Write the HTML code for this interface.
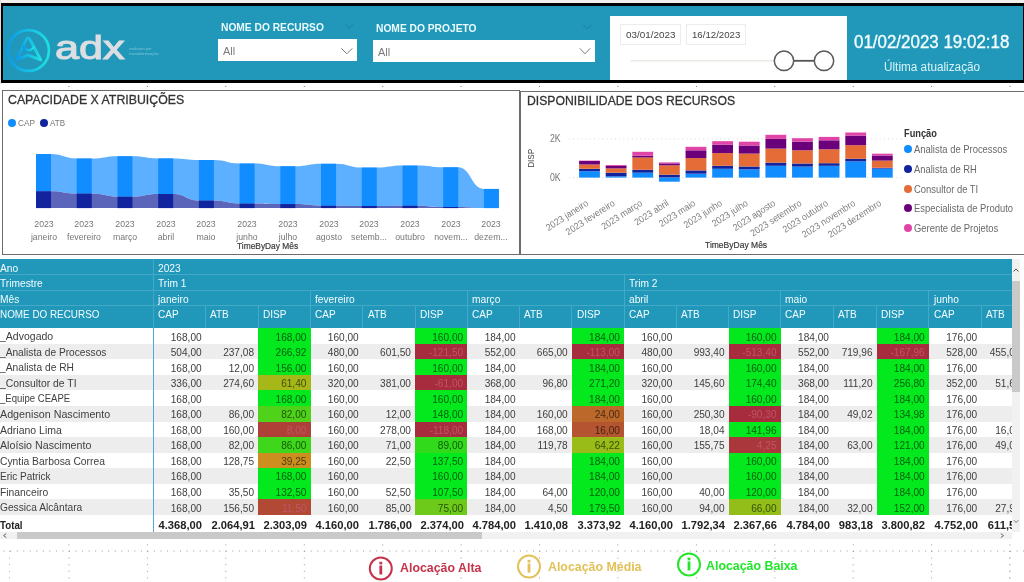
<!DOCTYPE html>
<html lang="pt-BR"><head><meta charset="utf-8"><title>Dashboard ADX</title>
<style>
html,body{margin:0;padding:0;}
body{width:1024px;height:582px;overflow:hidden;position:relative;background:#fff;font-family:"Liberation Sans",sans-serif;}
.t{position:absolute;white-space:nowrap;line-height:1;transform-origin:0 50%;}
.b{position:absolute;}
svg{position:absolute;left:0;top:0;overflow:visible;}
</style></head><body><div id="root" style="position:absolute;left:0;top:0;width:1024px;height:582px;will-change:transform">
<div class="b" style="left:0;top:0;width:1024px;height:2.6px;background:#f2efec"></div>
<div class="b" style="left:0;top:0;width:1.2px;height:84px;background:#e4e0dc"></div>
<div class="b" style="left:1px;top:3px;width:1023px;height:80px;background:#000"></div>
<div class="b" style="left:3px;top:5.5px;width:1020px;height:74.5px;background:#2198ba"></div>
<svg width="1024" height="90" viewBox="0 0 1024 90">
<defs><linearGradient id="lg" x1="0" y1="0" x2="1" y2="0"><stop offset="0" stop-color="#0e9be8"/><stop offset="1" stop-color="#1fe0df"/></linearGradient></defs>
<circle cx="28.5" cy="50.5" r="20.4" fill="none" stroke="url(#lg)" stroke-width="2.7"/>
<path d="M16.5 59.3 L25.9 40.2 Q28 35.6 30.3 40.2 L40.8 59.9 L28 55.2 Z" fill="none" stroke="url(#lg)" stroke-width="2.9" stroke-linejoin="round"/>
<path d="M23.8 47 Q28.5 53.5 33.6 47.4" fill="none" stroke="url(#lg)" stroke-width="2.5" stroke-linecap="round"/>
</svg>
<span class="t" style="left:55.00px;top:30.96px;font-size:33.6px;color:#dcdee1;transform:scaleX(1.2848);-webkit-text-stroke:1.1px #dcdee1;">adx</span>
<span class="t" style="left:128.50px;top:46.61px;font-size:4px;color:#7fc6d8;transform:scaleX(0.9823);">evolution por</span>
<span class="t" style="left:128.50px;top:51.61px;font-size:4px;color:#7fc6d8;transform:scaleX(1.1539);">transformação</span>
<span class="t" style="left:220.50px;top:21.08px;font-size:11.6px;color:#e9fbfd;font-weight:700;transform:scaleX(0.8821);">NOME DO RECURSO</span>
<div class="b" style="left:217.6px;top:39.3px;width:139px;height:22px;background:#fff"></div>
<span class="t" style="left:223.00px;top:46.07px;font-size:10.9px;color:#7a7a7a;">All</span>
<span class="t" style="left:375.70px;top:21.58px;font-size:11.6px;color:#e9fbfd;font-weight:700;transform:scaleX(0.8835);">NOME DO PROJETO</span>
<div class="b" style="left:372.7px;top:40px;width:222.7px;height:21.6px;background:#fff"></div>
<span class="t" style="left:378.00px;top:46.67px;font-size:10.9px;color:#7a7a7a;">All</span>
<svg width="1024" height="90" viewBox="0 0 1024 90" fill="none">
<path d="M341.3 48.3 L346.8 53.8 L352.3 48.3" stroke="#7a7a7a" stroke-width="1"/>
<path d="M344.8 24.3 L348.9 28.2 L353 24.3" stroke="#1b7f9d" stroke-width="1"/>
<path d="M579.8 48.3 L585 53.8 L590.2 48.3" stroke="#7a7a7a" stroke-width="1"/>
<path d="M583.2 24.8 L587.3 28.7 L591.4 24.8" stroke="#1b7f9d" stroke-width="1"/>
</svg>
<div class="b" style="left:609.6px;top:15.6px;width:237.2px;height:64.4px;background:#fff"></div>
<div class="b" style="left:620.3px;top:23.7px;width:60.4px;height:21px;border:1px solid #eeecea;box-sizing:border-box"></div>
<div class="b" style="left:685.8px;top:23.7px;width:60.2px;height:21px;border:1px solid #eeecea;box-sizing:border-box"></div>
<span class="t" style="left:626.00px;top:29.87px;font-size:9.6px;color:#444;transform:scaleX(1.0282);">03/01/2023</span>
<span class="t" style="left:692.00px;top:29.87px;font-size:9.6px;color:#444;transform:scaleX(1.0073);">16/12/2023</span>
<svg width="1024" height="90" viewBox="0 0 1024 90" fill="none">
<path d="M630.5 60.8 H774" stroke="#ebe9e4" stroke-width="1.4"/>
<path d="M794 60.8 H814" stroke="#555" stroke-width="1.8"/>
<circle cx="784" cy="60.8" r="9.7" fill="#fff" stroke="#5a5a5a" stroke-width="1.5"/>
<circle cx="824" cy="60.8" r="9.7" fill="#fff" stroke="#5a5a5a" stroke-width="1.5"/>
</svg>
<span class="t" style="left:854.40px;top:33.90px;font-size:17.6px;color:#f2fdff;transform:scaleX(0.9623);-webkit-text-stroke:0.35px #f2fdff;">01/02/2023 19:02:18</span>
<span class="t" style="left:883.70px;top:61.44px;font-size:12px;color:#d9f4f8;transform:scaleX(0.9802);">Última atualização</span>
<div class="b" style="left:2px;top:90px;width:517.5px;height:165px;border:1.3px solid #6c6c6c;box-sizing:border-box;background:#fff"></div>
<span class="t" style="left:7.80px;top:93.04px;font-size:13.3px;color:#333;transform:scaleX(0.9265);-webkit-text-stroke:0.3px #333;">CAPACIDADE X ATRIBUIÇÕES</span>
<div class="b" style="left:7.6px;top:118.6px;width:8.2px;height:8.2px;border-radius:50%;background:#118dff"></div>
<span class="t" style="left:18.00px;top:118.63px;font-size:9.3px;color:#777;transform:scaleX(0.8890);">CAP</span>
<div class="b" style="left:39.9px;top:118.6px;width:8.2px;height:8.2px;border-radius:50%;background:#12239e"></div>
<span class="t" style="left:50.40px;top:118.63px;font-size:9.3px;color:#777;transform:scaleX(0.8622);">ATB</span>
<svg width="1024" height="582" viewBox="0 0 1024 582"><path d="M36.00 154.00 L51.00 154.00 C63.86 154.00 63.86 158.50 76.72 158.50 L91.72 158.50 C104.58 158.50 104.58 156.20 117.44 156.20 L132.44 156.20 C145.30 156.20 145.30 158.40 158.16 158.40 L173.16 158.40 C186.02 158.40 186.02 160.00 198.88 160.00 L213.88 160.00 C226.74 160.00 226.74 163.50 239.60 163.50 L254.60 163.50 C267.46 163.50 267.46 166.30 280.32 166.30 L295.32 166.30 C308.18 166.30 308.18 163.80 321.04 163.80 L336.04 163.80 C348.90 163.80 348.90 167.60 361.76 167.60 L376.76 167.60 C389.62 167.60 389.62 165.60 402.48 165.60 L417.48 165.60 C430.34 165.60 430.34 167.30 443.20 167.30 L458.20 167.30 C471.06 167.30 471.06 188.90 483.92 188.90 L498.92 188.90 L498.92 208.10 L483.92 208.10 C471.06 208.10 471.06 207.00 458.20 207.00 L458.20 207.00 L443.20 207.00 C430.34 207.00 430.34 205.70 417.48 205.70 L417.48 205.70 L402.48 205.70 C389.62 205.70 389.62 206.00 376.76 206.00 L376.76 206.00 L361.76 206.00 C348.90 206.00 348.90 205.70 336.04 205.70 L336.04 205.70 L321.04 205.70 C308.18 205.70 308.18 204.10 295.32 204.10 L295.32 204.10 L280.32 204.10 C267.46 204.10 267.46 203.60 254.60 203.60 L254.60 203.60 L239.60 203.60 C226.74 203.60 226.74 200.60 213.88 200.60 L213.88 200.60 L198.88 200.60 C186.02 200.60 186.02 194.00 173.16 194.00 L173.16 194.00 L158.16 194.00 C145.30 194.00 145.30 196.70 132.44 196.70 L132.44 196.70 L117.44 196.70 C104.58 196.70 104.58 193.60 91.72 193.60 L91.72 193.60 L76.72 193.60 C63.86 193.60 63.86 191.30 51.00 191.30 L51.00 191.30 L36.00 191.30 Z" fill="#5cb0ff"/><path d="M36.00 191.30 L51.00 191.30 C63.86 191.30 63.86 193.60 76.72 193.60 L91.72 193.60 C104.58 193.60 104.58 196.70 117.44 196.70 L132.44 196.70 C145.30 196.70 145.30 194.00 158.16 194.00 L173.16 194.00 C186.02 194.00 186.02 200.60 198.88 200.60 L213.88 200.60 C226.74 200.60 226.74 203.60 239.60 203.60 L254.60 203.60 C267.46 203.60 267.46 204.10 280.32 204.10 L295.32 204.10 C308.18 204.10 308.18 205.70 321.04 205.70 L336.04 205.70 C348.90 205.70 348.90 206.00 361.76 206.00 L376.76 206.00 C389.62 206.00 389.62 205.70 402.48 205.70 L417.48 205.70 C430.34 205.70 430.34 207.00 443.20 207.00 L458.20 207.00 C471.06 207.00 471.06 208.10 483.92 208.10 L498.92 208.10 L498.92 208.10 L483.92 208.10 C471.06 208.10 471.06 208.10 458.20 208.10 L458.20 208.10 L443.20 208.10 C430.34 208.10 430.34 208.10 417.48 208.10 L417.48 208.10 L402.48 208.10 C389.62 208.10 389.62 208.10 376.76 208.10 L376.76 208.10 L361.76 208.10 C348.90 208.10 348.90 208.10 336.04 208.10 L336.04 208.10 L321.04 208.10 C308.18 208.10 308.18 208.10 295.32 208.10 L295.32 208.10 L280.32 208.10 C267.46 208.10 267.46 208.10 254.60 208.10 L254.60 208.10 L239.60 208.10 C226.74 208.10 226.74 208.10 213.88 208.10 L213.88 208.10 L198.88 208.10 C186.02 208.10 186.02 208.10 173.16 208.10 L173.16 208.10 L158.16 208.10 C145.30 208.10 145.30 208.10 132.44 208.10 L132.44 208.10 L117.44 208.10 C104.58 208.10 104.58 208.10 91.72 208.10 L91.72 208.10 L76.72 208.10 C63.86 208.10 63.86 208.10 51.00 208.10 L51.00 208.10 L36.00 208.10 Z" fill="#5b66ba"/><rect x="36.00" y="154.00" width="15.0" height="37.30" fill="#118dff"/><rect x="36.00" y="191.30" width="15.0" height="16.80" fill="#12239e"/><rect x="76.72" y="158.50" width="15.0" height="35.10" fill="#118dff"/><rect x="76.72" y="193.60" width="15.0" height="14.50" fill="#12239e"/><rect x="117.44" y="156.20" width="15.0" height="40.50" fill="#118dff"/><rect x="117.44" y="196.70" width="15.0" height="11.40" fill="#12239e"/><rect x="158.16" y="158.40" width="15.0" height="35.60" fill="#118dff"/><rect x="158.16" y="194.00" width="15.0" height="14.10" fill="#12239e"/><rect x="198.88" y="160.00" width="15.0" height="40.60" fill="#118dff"/><rect x="198.88" y="200.60" width="15.0" height="7.50" fill="#12239e"/><rect x="239.60" y="163.50" width="15.0" height="40.10" fill="#118dff"/><rect x="239.60" y="203.60" width="15.0" height="4.50" fill="#12239e"/><rect x="280.32" y="166.30" width="15.0" height="37.80" fill="#118dff"/><rect x="280.32" y="204.10" width="15.0" height="4.00" fill="#12239e"/><rect x="321.04" y="163.80" width="15.0" height="41.90" fill="#118dff"/><rect x="321.04" y="205.70" width="15.0" height="2.40" fill="#12239e"/><rect x="361.76" y="167.60" width="15.0" height="38.40" fill="#118dff"/><rect x="361.76" y="206.00" width="15.0" height="2.10" fill="#12239e"/><rect x="402.48" y="165.60" width="15.0" height="40.10" fill="#118dff"/><rect x="402.48" y="205.70" width="15.0" height="2.40" fill="#12239e"/><rect x="443.20" y="167.30" width="15.0" height="39.70" fill="#118dff"/><rect x="443.20" y="207.00" width="15.0" height="1.10" fill="#12239e"/><rect x="483.92" y="188.90" width="15.0" height="19.20" fill="#118dff"/></svg>
<span class="t" style="left:3.50px;width:80px;text-align:center;top:219.34px;font-size:9.4px;color:#777;transform-origin:50% 50%;transform:scaleX(0.93)">2023</span>
<span class="t" style="left:3.50px;width:80px;text-align:center;top:232.34px;font-size:9.4px;color:#777;transform-origin:50% 50%;transform:scaleX(0.93)">janeiro</span>
<span class="t" style="left:44.22px;width:80px;text-align:center;top:219.34px;font-size:9.4px;color:#777;transform-origin:50% 50%;transform:scaleX(0.93)">2023</span>
<span class="t" style="left:44.22px;width:80px;text-align:center;top:232.34px;font-size:9.4px;color:#777;transform-origin:50% 50%;transform:scaleX(0.93)">fevereiro</span>
<span class="t" style="left:84.94px;width:80px;text-align:center;top:219.34px;font-size:9.4px;color:#777;transform-origin:50% 50%;transform:scaleX(0.93)">2023</span>
<span class="t" style="left:84.94px;width:80px;text-align:center;top:232.34px;font-size:9.4px;color:#777;transform-origin:50% 50%;transform:scaleX(0.93)">março</span>
<span class="t" style="left:125.66px;width:80px;text-align:center;top:219.34px;font-size:9.4px;color:#777;transform-origin:50% 50%;transform:scaleX(0.93)">2023</span>
<span class="t" style="left:125.66px;width:80px;text-align:center;top:232.34px;font-size:9.4px;color:#777;transform-origin:50% 50%;transform:scaleX(0.93)">abril</span>
<span class="t" style="left:166.38px;width:80px;text-align:center;top:219.34px;font-size:9.4px;color:#777;transform-origin:50% 50%;transform:scaleX(0.93)">2023</span>
<span class="t" style="left:166.38px;width:80px;text-align:center;top:232.34px;font-size:9.4px;color:#777;transform-origin:50% 50%;transform:scaleX(0.93)">maio</span>
<span class="t" style="left:207.10px;width:80px;text-align:center;top:219.34px;font-size:9.4px;color:#777;transform-origin:50% 50%;transform:scaleX(0.93)">2023</span>
<span class="t" style="left:207.10px;width:80px;text-align:center;top:232.34px;font-size:9.4px;color:#777;transform-origin:50% 50%;transform:scaleX(0.93)">junho</span>
<span class="t" style="left:247.82px;width:80px;text-align:center;top:219.34px;font-size:9.4px;color:#777;transform-origin:50% 50%;transform:scaleX(0.93)">2023</span>
<span class="t" style="left:247.82px;width:80px;text-align:center;top:232.34px;font-size:9.4px;color:#777;transform-origin:50% 50%;transform:scaleX(0.93)">julho</span>
<span class="t" style="left:288.54px;width:80px;text-align:center;top:219.34px;font-size:9.4px;color:#777;transform-origin:50% 50%;transform:scaleX(0.93)">2023</span>
<span class="t" style="left:288.54px;width:80px;text-align:center;top:232.34px;font-size:9.4px;color:#777;transform-origin:50% 50%;transform:scaleX(0.93)">agosto</span>
<span class="t" style="left:329.26px;width:80px;text-align:center;top:219.34px;font-size:9.4px;color:#777;transform-origin:50% 50%;transform:scaleX(0.93)">2023</span>
<span class="t" style="left:329.26px;width:80px;text-align:center;top:232.34px;font-size:9.4px;color:#777;transform-origin:50% 50%;transform:scaleX(0.93)">setemb...</span>
<span class="t" style="left:369.98px;width:80px;text-align:center;top:219.34px;font-size:9.4px;color:#777;transform-origin:50% 50%;transform:scaleX(0.93)">2023</span>
<span class="t" style="left:369.98px;width:80px;text-align:center;top:232.34px;font-size:9.4px;color:#777;transform-origin:50% 50%;transform:scaleX(0.93)">outubro</span>
<span class="t" style="left:410.70px;width:80px;text-align:center;top:219.34px;font-size:9.4px;color:#777;transform-origin:50% 50%;transform:scaleX(0.93)">2023</span>
<span class="t" style="left:410.70px;width:80px;text-align:center;top:232.34px;font-size:9.4px;color:#777;transform-origin:50% 50%;transform:scaleX(0.93)">novem...</span>
<span class="t" style="left:451.42px;width:80px;text-align:center;top:219.34px;font-size:9.4px;color:#777;transform-origin:50% 50%;transform:scaleX(0.93)">2023</span>
<span class="t" style="left:451.42px;width:80px;text-align:center;top:232.34px;font-size:9.4px;color:#777;transform-origin:50% 50%;transform:scaleX(0.93)">dezem...</span>
<span class="t" style="left:237.40px;top:242.41px;font-size:9.2px;color:#3a3a3a;transform:scaleX(0.9116);-webkit-text-stroke:0.2px #3a3a3a;">TimeByDay Mês</span>
<div class="b" style="left:519.5px;top:91px;width:510px;height:164px;border:1.3px solid #6c6c6c;box-sizing:border-box;background:#fff"></div>
<span class="t" style="left:526.80px;top:94.46px;font-size:13.4px;color:#333;transform:scaleX(0.9108);-webkit-text-stroke:0.3px #333;">DISPONIBILIDADE DOS RECURSOS</span>
<span class="t" style="left:550.30px;top:133.97px;font-size:10.2px;color:#777;transform:scaleX(0.8576);">2K</span>
<span class="t" style="left:550.30px;top:172.97px;font-size:10.2px;color:#777;transform:scaleX(0.8576);">0K</span>
<span class="t" style="left:515.70px;width:30px;text-align:center;top:153.50px;font-size:8.6px;color:#444;transform-origin:50% 50%;transform:rotate(-90deg) scaleX(0.95)">DISP</span>
<svg width="1024" height="582" viewBox="0 0 1024 582"><path d="M568.8 138.9 H904 M568.8 177.6 H904" stroke="#d8d8d8" stroke-width="1" stroke-dasharray="1 3.2" fill="none"/><rect x="579.10" y="171.20" width="20.8" height="6.40" fill="#118dff"/><rect x="579.10" y="168.80" width="20.8" height="2.40" fill="#12239e"/><rect x="579.10" y="164.50" width="20.8" height="4.30" fill="#e66c37"/><rect x="579.10" y="161.00" width="20.8" height="3.50" fill="#6b007b"/><rect x="579.10" y="160.60" width="20.8" height="0.40" fill="#e044a7"/><rect x="605.72" y="176.30" width="20.8" height="1.30" fill="#118dff"/><rect x="605.72" y="172.70" width="20.8" height="3.60" fill="#12239e"/><rect x="605.72" y="168.40" width="20.8" height="4.30" fill="#e66c37"/><rect x="605.72" y="165.90" width="20.8" height="2.50" fill="#6b007b"/><rect x="605.72" y="165.00" width="20.8" height="0.90" fill="#e044a7"/><rect x="632.34" y="172.70" width="20.8" height="4.90" fill="#118dff"/><rect x="632.34" y="169.80" width="20.8" height="2.90" fill="#12239e"/><rect x="632.34" y="157.50" width="20.8" height="12.30" fill="#e66c37"/><rect x="632.34" y="155.70" width="20.8" height="1.80" fill="#6b007b"/><rect x="632.34" y="151.80" width="20.8" height="3.90" fill="#e044a7"/><rect x="658.96" y="177.40" width="20.8" height="4.30" fill="#118dff"/><rect x="658.96" y="174.70" width="20.8" height="2.70" fill="#12239e"/><rect x="658.96" y="165.30" width="20.8" height="9.40" fill="#e66c37"/><rect x="658.96" y="163.40" width="20.8" height="1.90" fill="#6b007b"/><rect x="658.96" y="162.40" width="20.8" height="1.00" fill="#e044a7"/><rect x="685.58" y="173.70" width="20.8" height="3.90" fill="#118dff"/><rect x="685.58" y="170.40" width="20.8" height="3.30" fill="#12239e"/><rect x="685.58" y="158.10" width="20.8" height="12.30" fill="#e66c37"/><rect x="685.58" y="150.30" width="20.8" height="7.80" fill="#6b007b"/><rect x="685.58" y="146.80" width="20.8" height="3.50" fill="#e044a7"/><rect x="712.20" y="168.80" width="20.8" height="8.80" fill="#118dff"/><rect x="712.20" y="165.80" width="20.8" height="3.00" fill="#12239e"/><rect x="712.20" y="153.10" width="20.8" height="12.70" fill="#e66c37"/><rect x="712.20" y="144.70" width="20.8" height="8.40" fill="#6b007b"/><rect x="712.20" y="141.20" width="20.8" height="3.50" fill="#e044a7"/><rect x="738.82" y="169.30" width="20.8" height="8.30" fill="#118dff"/><rect x="738.82" y="166.50" width="20.8" height="2.80" fill="#12239e"/><rect x="738.82" y="153.60" width="20.8" height="12.90" fill="#e66c37"/><rect x="738.82" y="145.50" width="20.8" height="8.10" fill="#6b007b"/><rect x="738.82" y="141.70" width="20.8" height="3.80" fill="#e044a7"/><rect x="765.44" y="165.80" width="20.8" height="11.80" fill="#118dff"/><rect x="765.44" y="162.60" width="20.8" height="3.20" fill="#12239e"/><rect x="765.44" y="148.60" width="20.8" height="14.00" fill="#e66c37"/><rect x="765.44" y="138.90" width="20.8" height="9.70" fill="#6b007b"/><rect x="765.44" y="134.80" width="20.8" height="4.10" fill="#e044a7"/><rect x="792.06" y="166.60" width="20.8" height="11.00" fill="#118dff"/><rect x="792.06" y="163.50" width="20.8" height="3.10" fill="#12239e"/><rect x="792.06" y="150.30" width="20.8" height="13.20" fill="#e66c37"/><rect x="792.06" y="141.60" width="20.8" height="8.70" fill="#6b007b"/><rect x="792.06" y="138.20" width="20.8" height="3.40" fill="#e044a7"/><rect x="818.68" y="165.80" width="20.8" height="11.80" fill="#118dff"/><rect x="818.68" y="163.20" width="20.8" height="2.60" fill="#12239e"/><rect x="818.68" y="149.30" width="20.8" height="13.90" fill="#e66c37"/><rect x="818.68" y="140.30" width="20.8" height="9.00" fill="#6b007b"/><rect x="818.68" y="136.90" width="20.8" height="3.40" fill="#e044a7"/><rect x="845.30" y="161.40" width="20.8" height="16.20" fill="#118dff"/><rect x="845.30" y="158.80" width="20.8" height="2.60" fill="#12239e"/><rect x="845.30" y="145.20" width="20.8" height="13.60" fill="#e66c37"/><rect x="845.30" y="135.60" width="20.8" height="9.60" fill="#6b007b"/><rect x="845.30" y="132.50" width="20.8" height="3.10" fill="#e044a7"/><rect x="871.92" y="168.60" width="20.8" height="9.00" fill="#118dff"/><rect x="871.92" y="167.80" width="20.8" height="0.80" fill="#12239e"/><rect x="871.92" y="160.60" width="20.8" height="7.20" fill="#e66c37"/><rect x="871.92" y="155.50" width="20.8" height="5.10" fill="#6b007b"/><rect x="871.92" y="153.70" width="20.8" height="1.80" fill="#e044a7"/></svg>
<span class="t" style="right:439.00px;top:198.40px;font-size:9.6px;color:#808080;transform-origin:100% 0%;transform:rotate(-33deg) scaleX(0.92)">2023 janeiro</span>
<span class="t" style="right:412.38px;top:198.40px;font-size:9.6px;color:#808080;transform-origin:100% 0%;transform:rotate(-33deg) scaleX(0.92)">2023 fevereiro</span>
<span class="t" style="right:385.76px;top:198.40px;font-size:9.6px;color:#808080;transform-origin:100% 0%;transform:rotate(-33deg) scaleX(0.92)">2023 março</span>
<span class="t" style="right:359.14px;top:198.40px;font-size:9.6px;color:#808080;transform-origin:100% 0%;transform:rotate(-33deg) scaleX(0.92)">2023 abril</span>
<span class="t" style="right:332.52px;top:198.40px;font-size:9.6px;color:#808080;transform-origin:100% 0%;transform:rotate(-33deg) scaleX(0.92)">2023 maio</span>
<span class="t" style="right:305.90px;top:198.40px;font-size:9.6px;color:#808080;transform-origin:100% 0%;transform:rotate(-33deg) scaleX(0.92)">2023 junho</span>
<span class="t" style="right:279.28px;top:198.40px;font-size:9.6px;color:#808080;transform-origin:100% 0%;transform:rotate(-33deg) scaleX(0.92)">2023 julho</span>
<span class="t" style="right:252.66px;top:198.40px;font-size:9.6px;color:#808080;transform-origin:100% 0%;transform:rotate(-33deg) scaleX(0.92)">2023 agosto</span>
<span class="t" style="right:226.04px;top:198.40px;font-size:9.6px;color:#808080;transform-origin:100% 0%;transform:rotate(-33deg) scaleX(0.92)">2023 setembro</span>
<span class="t" style="right:199.42px;top:198.40px;font-size:9.6px;color:#808080;transform-origin:100% 0%;transform:rotate(-33deg) scaleX(0.92)">2023 outubro</span>
<span class="t" style="right:172.80px;top:198.40px;font-size:9.6px;color:#808080;transform-origin:100% 0%;transform:rotate(-33deg) scaleX(0.92)">2023 novembro</span>
<span class="t" style="right:146.18px;top:198.40px;font-size:9.6px;color:#808080;transform-origin:100% 0%;transform:rotate(-33deg) scaleX(0.92)">2023 dezembro</span>
<span class="t" style="left:705.40px;top:240.51px;font-size:9.2px;color:#3a3a3a;transform:scaleX(0.9265);-webkit-text-stroke:0.2px #3a3a3a;">TimeByDay Mês</span>
<span class="t" style="left:903.60px;top:128.33px;font-size:10.6px;color:#333;font-weight:700;transform:scaleX(0.8729);">Função</span>
<div class="b" style="left:904.10px;top:145.20px;width:8.2px;height:8.2px;border-radius:50%;background:#118dff"></div>
<span class="t" style="left:913.90px;top:145.18px;font-size:10.3px;color:#6a6a6a;transform:scaleX(0.915);">Analista de Processos</span>
<div class="b" style="left:904.10px;top:165.00px;width:8.2px;height:8.2px;border-radius:50%;background:#12239e"></div>
<span class="t" style="left:913.90px;top:164.98px;font-size:10.3px;color:#6a6a6a;transform:scaleX(0.915);">Analista de RH</span>
<div class="b" style="left:904.10px;top:184.90px;width:8.2px;height:8.2px;border-radius:50%;background:#e66c37"></div>
<span class="t" style="left:913.90px;top:184.88px;font-size:10.3px;color:#6a6a6a;transform:scaleX(0.915);">Consultor de TI</span>
<div class="b" style="left:904.10px;top:204.20px;width:8.2px;height:8.2px;border-radius:50%;background:#6b007b"></div>
<span class="t" style="left:913.90px;top:204.18px;font-size:10.3px;color:#6a6a6a;transform:scaleX(0.915);">Especialista de Produto</span>
<div class="b" style="left:904.10px;top:223.80px;width:8.2px;height:8.2px;border-radius:50%;background:#e044a7"></div>
<span class="t" style="left:913.90px;top:223.78px;font-size:10.3px;color:#6a6a6a;transform:scaleX(0.915);">Gerente de Projetos</span>
<div class="b" style="left:0;top:259.3px;width:1012px;height:69.0px;background:#2198ba"></div>
<div class="b" style="left:0px;top:274.0px;width:1012px;height:1px;background:#43a9c6"></div>
<div class="b" style="left:0px;top:289.7px;width:1012px;height:1px;background:#43a9c6"></div>
<div class="b" style="left:0px;top:304.9px;width:1012px;height:1px;background:#43a9c6"></div>
<div class="b" style="left:152.9px;top:259.3px;width:1px;height:69px;background:#43a9c6"></div>
<div class="b" style="left:205.3px;top:305.4px;width:1px;height:22.9px;background:#43a9c6"></div>
<div class="b" style="left:257.7px;top:305.4px;width:1px;height:22.9px;background:#43a9c6"></div>
<div class="b" style="left:310.1px;top:290.2px;width:1px;height:38.1px;background:#43a9c6"></div>
<div class="b" style="left:362.4px;top:305.4px;width:1px;height:22.9px;background:#43a9c6"></div>
<div class="b" style="left:414.6px;top:305.4px;width:1px;height:22.9px;background:#43a9c6"></div>
<div class="b" style="left:466.8px;top:290.2px;width:1px;height:38.1px;background:#43a9c6"></div>
<div class="b" style="left:519.2px;top:305.4px;width:1px;height:22.9px;background:#43a9c6"></div>
<div class="b" style="left:571.4px;top:305.4px;width:1px;height:22.9px;background:#43a9c6"></div>
<div class="b" style="left:623.6px;top:290.2px;width:1px;height:38.1px;background:#43a9c6"></div>
<div class="b" style="left:676.0px;top:305.4px;width:1px;height:22.9px;background:#43a9c6"></div>
<div class="b" style="left:728.2px;top:305.4px;width:1px;height:22.9px;background:#43a9c6"></div>
<div class="b" style="left:780.2px;top:290.2px;width:1px;height:38.1px;background:#43a9c6"></div>
<div class="b" style="left:832.6px;top:305.4px;width:1px;height:22.9px;background:#43a9c6"></div>
<div class="b" style="left:876.2px;top:305.4px;width:1px;height:22.9px;background:#43a9c6"></div>
<div class="b" style="left:928.4px;top:290.2px;width:1px;height:38.1px;background:#43a9c6"></div>
<div class="b" style="left:980.8px;top:305.4px;width:1px;height:22.9px;background:#43a9c6"></div>
<div class="b" style="left:623.6px;top:274.5px;width:1px;height:16px;background:#43a9c6"></div>
<span class="t" style="left:0.00px;top:262.54px;font-size:10.7px;color:#f4fcff;transform:scaleX(0.955);">Ano</span>
<span class="t" style="left:0.00px;top:278.24px;font-size:10.7px;color:#f4fcff;transform:scaleX(0.955);">Trimestre</span>
<span class="t" style="left:0.00px;top:293.54px;font-size:10.7px;color:#f4fcff;transform:scaleX(0.955);">Mês</span>
<span class="t" style="left:0.00px;top:308.84px;font-size:10.7px;color:#f4fcff;transform:scaleX(0.925);">NOME DO RECURSO</span>
<span class="t" style="left:158.00px;top:262.54px;font-size:10.7px;color:#f4fcff;transform:scaleX(0.955);">2023</span>
<span class="t" style="left:158.00px;top:278.24px;font-size:10.7px;color:#f4fcff;transform:scaleX(0.955);">Trim 1</span>
<span class="t" style="left:628.70px;top:278.24px;font-size:10.7px;color:#f4fcff;transform:scaleX(0.955);">Trim 2</span>
<span class="t" style="left:158.00px;top:293.54px;font-size:10.7px;color:#f4fcff;transform:scaleX(0.955);">janeiro</span>
<span class="t" style="left:315.20px;top:293.54px;font-size:10.7px;color:#f4fcff;transform:scaleX(0.955);">fevereiro</span>
<span class="t" style="left:471.90px;top:293.54px;font-size:10.7px;color:#f4fcff;transform:scaleX(0.955);">março</span>
<span class="t" style="left:628.70px;top:293.54px;font-size:10.7px;color:#f4fcff;transform:scaleX(0.955);">abril</span>
<span class="t" style="left:785.30px;top:293.54px;font-size:10.7px;color:#f4fcff;transform:scaleX(0.955);">maio</span>
<span class="t" style="left:933.50px;top:293.54px;font-size:10.7px;color:#f4fcff;transform:scaleX(0.955);">junho</span>
<span class="t" style="left:158.00px;top:308.84px;font-size:10.7px;color:#f4fcff;transform:scaleX(0.94);">CAP</span>
<span class="t" style="left:210.40px;top:308.84px;font-size:10.7px;color:#f4fcff;transform:scaleX(0.94);">ATB</span>
<span class="t" style="left:262.80px;top:308.84px;font-size:10.7px;color:#f4fcff;transform:scaleX(0.94);">DISP</span>
<span class="t" style="left:315.20px;top:308.84px;font-size:10.7px;color:#f4fcff;transform:scaleX(0.94);">CAP</span>
<span class="t" style="left:367.50px;top:308.84px;font-size:10.7px;color:#f4fcff;transform:scaleX(0.94);">ATB</span>
<span class="t" style="left:419.70px;top:308.84px;font-size:10.7px;color:#f4fcff;transform:scaleX(0.94);">DISP</span>
<span class="t" style="left:471.90px;top:308.84px;font-size:10.7px;color:#f4fcff;transform:scaleX(0.94);">CAP</span>
<span class="t" style="left:524.30px;top:308.84px;font-size:10.7px;color:#f4fcff;transform:scaleX(0.94);">ATB</span>
<span class="t" style="left:576.50px;top:308.84px;font-size:10.7px;color:#f4fcff;transform:scaleX(0.94);">DISP</span>
<span class="t" style="left:628.70px;top:308.84px;font-size:10.7px;color:#f4fcff;transform:scaleX(0.94);">CAP</span>
<span class="t" style="left:681.10px;top:308.84px;font-size:10.7px;color:#f4fcff;transform:scaleX(0.94);">ATB</span>
<span class="t" style="left:733.30px;top:308.84px;font-size:10.7px;color:#f4fcff;transform:scaleX(0.94);">DISP</span>
<span class="t" style="left:785.30px;top:308.84px;font-size:10.7px;color:#f4fcff;transform:scaleX(0.94);">CAP</span>
<span class="t" style="left:837.70px;top:308.84px;font-size:10.7px;color:#f4fcff;transform:scaleX(0.94);">ATB</span>
<span class="t" style="left:881.30px;top:308.84px;font-size:10.7px;color:#f4fcff;transform:scaleX(0.94);">DISP</span>
<span class="t" style="left:933.50px;top:308.84px;font-size:10.7px;color:#f4fcff;transform:scaleX(0.94);">CAP</span>
<span class="t" style="left:985.90px;top:308.84px;font-size:10.7px;color:#f4fcff;transform:scaleX(0.94);">ATB</span>
<div class="b" style="left:0;top:328.3px;width:1012px;height:204.2px;overflow:hidden">
<div class="b" style="left:258.2px;top:0.00px;width:52.4px;height:15.85px;background:rgb(4, 232, 30)"></div>
<div class="b" style="left:415.1px;top:0.00px;width:52.2px;height:15.85px;background:rgb(4, 232, 30)"></div>
<div class="b" style="left:571.9px;top:0.00px;width:52.2px;height:15.85px;background:rgb(4, 232, 30)"></div>
<div class="b" style="left:728.7px;top:0.00px;width:52.0px;height:15.85px;background:rgb(4, 232, 30)"></div>
<div class="b" style="left:876.7px;top:0.00px;width:52.2px;height:15.85px;background:rgb(4, 232, 30)"></div>
<div class="b" style="left:0;top:15.55px;width:1012px;height:15.55px;background:#ededed"></div>
<div class="b" style="left:258.2px;top:15.55px;width:52.4px;height:15.85px;background:rgb(4, 232, 30)"></div>
<div class="b" style="left:415.1px;top:15.55px;width:52.2px;height:15.85px;background:rgb(166, 44, 62)"></div>
<div class="b" style="left:571.9px;top:15.55px;width:52.2px;height:15.85px;background:rgb(166, 44, 62)"></div>
<div class="b" style="left:728.7px;top:15.55px;width:52.0px;height:15.85px;background:rgb(166, 44, 62)"></div>
<div class="b" style="left:876.7px;top:15.55px;width:52.2px;height:15.85px;background:rgb(166, 44, 62)"></div>
<div class="b" style="left:258.2px;top:31.10px;width:52.4px;height:15.85px;background:rgb(4, 232, 30)"></div>
<div class="b" style="left:415.1px;top:31.10px;width:52.2px;height:15.85px;background:rgb(4, 232, 30)"></div>
<div class="b" style="left:571.9px;top:31.10px;width:52.2px;height:15.85px;background:rgb(4, 232, 30)"></div>
<div class="b" style="left:728.7px;top:31.10px;width:52.0px;height:15.85px;background:rgb(4, 232, 30)"></div>
<div class="b" style="left:876.7px;top:31.10px;width:52.2px;height:15.85px;background:rgb(4, 232, 30)"></div>
<div class="b" style="left:0;top:46.65px;width:1012px;height:15.55px;background:#ededed"></div>
<div class="b" style="left:258.2px;top:46.65px;width:52.4px;height:15.85px;background:rgb(166, 184, 24)"></div>
<div class="b" style="left:415.1px;top:46.65px;width:52.2px;height:15.85px;background:rgb(166, 44, 62)"></div>
<div class="b" style="left:571.9px;top:46.65px;width:52.2px;height:15.85px;background:rgb(4, 232, 30)"></div>
<div class="b" style="left:728.7px;top:46.65px;width:52.0px;height:15.85px;background:rgb(4, 232, 30)"></div>
<div class="b" style="left:876.7px;top:46.65px;width:52.2px;height:15.85px;background:rgb(4, 232, 30)"></div>
<div class="b" style="left:258.2px;top:62.20px;width:52.4px;height:15.85px;background:rgb(4, 232, 30)"></div>
<div class="b" style="left:415.1px;top:62.20px;width:52.2px;height:15.85px;background:rgb(4, 232, 30)"></div>
<div class="b" style="left:571.9px;top:62.20px;width:52.2px;height:15.85px;background:rgb(4, 232, 30)"></div>
<div class="b" style="left:728.7px;top:62.20px;width:52.0px;height:15.85px;background:rgb(4, 232, 30)"></div>
<div class="b" style="left:876.7px;top:62.20px;width:52.2px;height:15.85px;background:rgb(4, 232, 30)"></div>
<div class="b" style="left:0;top:77.75px;width:1012px;height:15.55px;background:#ededed"></div>
<div class="b" style="left:258.2px;top:77.75px;width:52.4px;height:15.85px;background:rgb(80, 210, 27)"></div>
<div class="b" style="left:415.1px;top:77.75px;width:52.2px;height:15.85px;background:rgb(4, 232, 30)"></div>
<div class="b" style="left:571.9px;top:77.75px;width:52.2px;height:15.85px;background:rgb(189, 104, 43)"></div>
<div class="b" style="left:728.7px;top:77.75px;width:52.0px;height:15.85px;background:rgb(166, 44, 62)"></div>
<div class="b" style="left:876.7px;top:77.75px;width:52.2px;height:15.85px;background:rgb(4, 232, 30)"></div>
<div class="b" style="left:258.2px;top:93.30px;width:52.4px;height:15.85px;background:rgb(174, 64, 56)"></div>
<div class="b" style="left:415.1px;top:93.30px;width:52.2px;height:15.85px;background:rgb(166, 44, 62)"></div>
<div class="b" style="left:571.9px;top:93.30px;width:52.2px;height:15.85px;background:rgb(181, 84, 49)"></div>
<div class="b" style="left:728.7px;top:93.30px;width:52.0px;height:15.85px;background:rgb(4, 232, 30)"></div>
<div class="b" style="left:876.7px;top:93.30px;width:52.2px;height:15.85px;background:rgb(4, 232, 30)"></div>
<div class="b" style="left:0;top:108.85px;width:1012px;height:15.55px;background:#ededed"></div>
<div class="b" style="left:258.2px;top:108.85px;width:52.4px;height:15.85px;background:rgb(63, 215, 28)"></div>
<div class="b" style="left:415.1px;top:108.85px;width:52.2px;height:15.85px;background:rgb(50, 218, 28)"></div>
<div class="b" style="left:571.9px;top:108.85px;width:52.2px;height:15.85px;background:rgb(154, 188, 24)"></div>
<div class="b" style="left:728.7px;top:108.85px;width:52.0px;height:15.85px;background:rgb(170, 55, 59)"></div>
<div class="b" style="left:876.7px;top:108.85px;width:52.2px;height:15.85px;background:rgb(4, 232, 30)"></div>
<div class="b" style="left:258.2px;top:124.40px;width:52.4px;height:15.85px;background:rgb(204, 143, 31)"></div>
<div class="b" style="left:415.1px;top:124.40px;width:52.2px;height:15.85px;background:rgb(4, 232, 30)"></div>
<div class="b" style="left:571.9px;top:124.40px;width:52.2px;height:15.85px;background:rgb(4, 232, 30)"></div>
<div class="b" style="left:728.7px;top:124.40px;width:52.0px;height:15.85px;background:rgb(4, 232, 30)"></div>
<div class="b" style="left:876.7px;top:124.40px;width:52.2px;height:15.85px;background:rgb(4, 232, 30)"></div>
<div class="b" style="left:0;top:139.95px;width:1012px;height:15.55px;background:#ededed"></div>
<div class="b" style="left:258.2px;top:139.95px;width:52.4px;height:15.85px;background:rgb(4, 232, 30)"></div>
<div class="b" style="left:415.1px;top:139.95px;width:52.2px;height:15.85px;background:rgb(4, 232, 30)"></div>
<div class="b" style="left:571.9px;top:139.95px;width:52.2px;height:15.85px;background:rgb(4, 232, 30)"></div>
<div class="b" style="left:728.7px;top:139.95px;width:52.0px;height:15.85px;background:rgb(4, 232, 30)"></div>
<div class="b" style="left:876.7px;top:139.95px;width:52.2px;height:15.85px;background:rgb(4, 232, 30)"></div>
<div class="b" style="left:258.2px;top:155.50px;width:52.4px;height:15.85px;background:rgb(4, 232, 30)"></div>
<div class="b" style="left:415.1px;top:155.50px;width:52.2px;height:15.85px;background:rgb(4, 232, 30)"></div>
<div class="b" style="left:571.9px;top:155.50px;width:52.2px;height:15.85px;background:rgb(4, 232, 30)"></div>
<div class="b" style="left:728.7px;top:155.50px;width:52.0px;height:15.85px;background:rgb(4, 232, 30)"></div>
<div class="b" style="left:876.7px;top:155.50px;width:52.2px;height:15.85px;background:rgb(4, 232, 30)"></div>
<div class="b" style="left:0;top:171.05px;width:1012px;height:15.55px;background:#ededed"></div>
<div class="b" style="left:258.2px;top:171.05px;width:52.4px;height:15.85px;background:rgb(177, 73, 53)"></div>
<div class="b" style="left:415.1px;top:171.05px;width:52.2px;height:15.85px;background:rgb(109, 201, 26)"></div>
<div class="b" style="left:571.9px;top:171.05px;width:52.2px;height:15.85px;background:rgb(4, 232, 30)"></div>
<div class="b" style="left:728.7px;top:171.05px;width:52.0px;height:15.85px;background:rgb(147, 190, 25)"></div>
<div class="b" style="left:876.7px;top:171.05px;width:52.2px;height:15.85px;background:rgb(4, 232, 30)"></div>
<div class="b" style="left:152.6px;top:0;width:1.3px;height:204.2px;background:#56a6de"></div>
<span class="t" style="left:-0.3px;top:2.93px;font-size:10.6px;color:#404040;transform:scaleX(0.9919)">_Advogado</span>
<span class="t" style="right:810.40px;top:4.25px;font-size:10.1px;color:#404040">168,00</span>
<span class="t" style="right:705.60px;top:4.25px;font-size:10.1px;color:#01610b">168,00</span>
<span class="t" style="right:653.30px;top:4.25px;font-size:10.1px;color:#404040">160,00</span>
<span class="t" style="right:548.90px;top:4.25px;font-size:10.1px;color:#01610b">160,00</span>
<span class="t" style="right:496.50px;top:4.25px;font-size:10.1px;color:#404040">184,00</span>
<span class="t" style="right:392.10px;top:4.25px;font-size:10.1px;color:#01610b">184,00</span>
<span class="t" style="right:339.70px;top:4.25px;font-size:10.1px;color:#404040">160,00</span>
<span class="t" style="right:235.50px;top:4.25px;font-size:10.1px;color:#01610b">160,00</span>
<span class="t" style="right:183.10px;top:4.25px;font-size:10.1px;color:#404040">184,00</span>
<span class="t" style="right:87.30px;top:4.25px;font-size:10.1px;color:#01610b">184,00</span>
<span class="t" style="right:34.90px;top:4.25px;font-size:10.1px;color:#404040">176,00</span>
<span class="t" style="left:-0.3px;top:18.48px;font-size:10.6px;color:#404040;transform:scaleX(0.9614)">_Analista de Processos</span>
<span class="t" style="right:810.40px;top:19.80px;font-size:10.1px;color:#404040">504,00</span>
<span class="t" style="right:758.00px;top:19.80px;font-size:10.1px;color:#404040">237,08</span>
<span class="t" style="right:705.60px;top:19.80px;font-size:10.1px;color:#01610b">266,92</span>
<span class="t" style="right:653.30px;top:19.80px;font-size:10.1px;color:#404040">480,00</span>
<span class="t" style="right:601.10px;top:19.80px;font-size:10.1px;color:#404040">601,50</span>
<span class="t" style="right:548.90px;top:19.80px;font-size:10.1px;color:#bf5564">-121,50</span>
<span class="t" style="right:496.50px;top:19.80px;font-size:10.1px;color:#404040">552,00</span>
<span class="t" style="right:444.30px;top:19.80px;font-size:10.1px;color:#404040">665,00</span>
<span class="t" style="right:392.10px;top:19.80px;font-size:10.1px;color:#bf5564">-113,00</span>
<span class="t" style="right:339.70px;top:19.80px;font-size:10.1px;color:#404040">480,00</span>
<span class="t" style="right:287.50px;top:19.80px;font-size:10.1px;color:#404040">993,40</span>
<span class="t" style="right:235.50px;top:19.80px;font-size:10.1px;color:#bf5564">-513,40</span>
<span class="t" style="right:183.10px;top:19.80px;font-size:10.1px;color:#404040">552,00</span>
<span class="t" style="right:139.50px;top:19.80px;font-size:10.1px;color:#404040">719,96</span>
<span class="t" style="right:87.30px;top:19.80px;font-size:10.1px;color:#bf5564">-167,96</span>
<span class="t" style="right:34.90px;top:19.80px;font-size:10.1px;color:#404040">528,00</span>
<span class="t" style="right:-8.50px;top:19.80px;font-size:10.1px;color:#404040">455,00</span>
<span class="t" style="left:-0.3px;top:34.03px;font-size:10.6px;color:#404040;transform:scaleX(0.9661)">_Analista de RH</span>
<span class="t" style="right:810.40px;top:35.35px;font-size:10.1px;color:#404040">168,00</span>
<span class="t" style="right:758.00px;top:35.35px;font-size:10.1px;color:#404040">12,00</span>
<span class="t" style="right:705.60px;top:35.35px;font-size:10.1px;color:#01610b">156,00</span>
<span class="t" style="right:653.30px;top:35.35px;font-size:10.1px;color:#404040">160,00</span>
<span class="t" style="right:548.90px;top:35.35px;font-size:10.1px;color:#01610b">160,00</span>
<span class="t" style="right:496.50px;top:35.35px;font-size:10.1px;color:#404040">184,00</span>
<span class="t" style="right:392.10px;top:35.35px;font-size:10.1px;color:#01610b">184,00</span>
<span class="t" style="right:339.70px;top:35.35px;font-size:10.1px;color:#404040">160,00</span>
<span class="t" style="right:235.50px;top:35.35px;font-size:10.1px;color:#01610b">160,00</span>
<span class="t" style="right:183.10px;top:35.35px;font-size:10.1px;color:#404040">184,00</span>
<span class="t" style="right:87.30px;top:35.35px;font-size:10.1px;color:#01610b">184,00</span>
<span class="t" style="right:34.90px;top:35.35px;font-size:10.1px;color:#404040">176,00</span>
<span class="t" style="left:-0.3px;top:49.58px;font-size:10.6px;color:#404040;transform:scaleX(0.9799)">_Consultor de TI</span>
<span class="t" style="right:810.40px;top:50.90px;font-size:10.1px;color:#404040">336,00</span>
<span class="t" style="right:758.00px;top:50.90px;font-size:10.1px;color:#404040">274,60</span>
<span class="t" style="right:705.60px;top:50.90px;font-size:10.1px;color:#3f4d09">61,40</span>
<span class="t" style="right:653.30px;top:50.90px;font-size:10.1px;color:#404040">320,00</span>
<span class="t" style="right:601.10px;top:50.90px;font-size:10.1px;color:#404040">381,00</span>
<span class="t" style="right:548.90px;top:50.90px;font-size:10.1px;color:#bf5564">-61,00</span>
<span class="t" style="right:496.50px;top:50.90px;font-size:10.1px;color:#404040">368,00</span>
<span class="t" style="right:444.30px;top:50.90px;font-size:10.1px;color:#404040">96,80</span>
<span class="t" style="right:392.10px;top:50.90px;font-size:10.1px;color:#01610b">271,20</span>
<span class="t" style="right:339.70px;top:50.90px;font-size:10.1px;color:#404040">320,00</span>
<span class="t" style="right:287.50px;top:50.90px;font-size:10.1px;color:#404040">145,60</span>
<span class="t" style="right:235.50px;top:50.90px;font-size:10.1px;color:#01610b">174,40</span>
<span class="t" style="right:183.10px;top:50.90px;font-size:10.1px;color:#404040">368,00</span>
<span class="t" style="right:139.50px;top:50.90px;font-size:10.1px;color:#404040">111,20</span>
<span class="t" style="right:87.30px;top:50.90px;font-size:10.1px;color:#01610b">256,80</span>
<span class="t" style="right:34.90px;top:50.90px;font-size:10.1px;color:#404040">352,00</span>
<span class="t" style="right:-8.50px;top:50.90px;font-size:10.1px;color:#404040">51,60</span>
<span class="t" style="left:-0.3px;top:65.13px;font-size:10.6px;color:#404040;transform:scaleX(0.9025)">_Equipe CEAPE</span>
<span class="t" style="right:810.40px;top:66.45px;font-size:10.1px;color:#404040">168,00</span>
<span class="t" style="right:705.60px;top:66.45px;font-size:10.1px;color:#01610b">168,00</span>
<span class="t" style="right:653.30px;top:66.45px;font-size:10.1px;color:#404040">160,00</span>
<span class="t" style="right:548.90px;top:66.45px;font-size:10.1px;color:#01610b">160,00</span>
<span class="t" style="right:496.50px;top:66.45px;font-size:10.1px;color:#404040">184,00</span>
<span class="t" style="right:392.10px;top:66.45px;font-size:10.1px;color:#01610b">184,00</span>
<span class="t" style="right:339.70px;top:66.45px;font-size:10.1px;color:#404040">160,00</span>
<span class="t" style="right:235.50px;top:66.45px;font-size:10.1px;color:#01610b">160,00</span>
<span class="t" style="right:183.10px;top:66.45px;font-size:10.1px;color:#404040">184,00</span>
<span class="t" style="right:87.30px;top:66.45px;font-size:10.1px;color:#01610b">184,00</span>
<span class="t" style="right:34.90px;top:66.45px;font-size:10.1px;color:#404040">176,00</span>
<span class="t" style="left:-0.3px;top:80.68px;font-size:10.6px;color:#404040;transform:scaleX(1.0119)">Adgenison Nascimento</span>
<span class="t" style="right:810.40px;top:82.00px;font-size:10.1px;color:#404040">168,00</span>
<span class="t" style="right:758.00px;top:82.00px;font-size:10.1px;color:#404040">86,00</span>
<span class="t" style="right:705.60px;top:82.00px;font-size:10.1px;color:#1e580a">82,00</span>
<span class="t" style="right:653.30px;top:82.00px;font-size:10.1px;color:#404040">160,00</span>
<span class="t" style="right:601.10px;top:82.00px;font-size:10.1px;color:#404040">12,00</span>
<span class="t" style="right:548.90px;top:82.00px;font-size:10.1px;color:#01610b">148,00</span>
<span class="t" style="right:496.50px;top:82.00px;font-size:10.1px;color:#404040">184,00</span>
<span class="t" style="right:444.30px;top:82.00px;font-size:10.1px;color:#404040">160,00</span>
<span class="t" style="right:392.10px;top:82.00px;font-size:10.1px;color:#472b10">24,00</span>
<span class="t" style="right:339.70px;top:82.00px;font-size:10.1px;color:#404040">160,00</span>
<span class="t" style="right:287.50px;top:82.00px;font-size:10.1px;color:#404040">250,30</span>
<span class="t" style="right:235.50px;top:82.00px;font-size:10.1px;color:#bf5564">-90,30</span>
<span class="t" style="right:183.10px;top:82.00px;font-size:10.1px;color:#404040">184,00</span>
<span class="t" style="right:139.50px;top:82.00px;font-size:10.1px;color:#404040">49,02</span>
<span class="t" style="right:87.30px;top:82.00px;font-size:10.1px;color:#01610b">134,98</span>
<span class="t" style="right:34.90px;top:82.00px;font-size:10.1px;color:#404040">176,00</span>
<span class="t" style="left:-0.3px;top:96.23px;font-size:10.6px;color:#404040;transform:scaleX(0.9911)">Adriano Lima</span>
<span class="t" style="right:810.40px;top:97.55px;font-size:10.1px;color:#404040">168,00</span>
<span class="t" style="right:758.00px;top:97.55px;font-size:10.1px;color:#404040">160,00</span>
<span class="t" style="right:705.60px;top:97.55px;font-size:10.1px;color:#bf5564">8,00</span>
<span class="t" style="right:653.30px;top:97.55px;font-size:10.1px;color:#404040">160,00</span>
<span class="t" style="right:601.10px;top:97.55px;font-size:10.1px;color:#404040">278,00</span>
<span class="t" style="right:548.90px;top:97.55px;font-size:10.1px;color:#bf5564">-118,00</span>
<span class="t" style="right:496.50px;top:97.55px;font-size:10.1px;color:#404040">184,00</span>
<span class="t" style="right:444.30px;top:97.55px;font-size:10.1px;color:#404040">168,00</span>
<span class="t" style="right:392.10px;top:97.55px;font-size:10.1px;color:#442312">16,00</span>
<span class="t" style="right:339.70px;top:97.55px;font-size:10.1px;color:#404040">160,00</span>
<span class="t" style="right:287.50px;top:97.55px;font-size:10.1px;color:#404040">18,04</span>
<span class="t" style="right:235.50px;top:97.55px;font-size:10.1px;color:#01610b">141,96</span>
<span class="t" style="right:183.10px;top:97.55px;font-size:10.1px;color:#404040">184,00</span>
<span class="t" style="right:87.30px;top:97.55px;font-size:10.1px;color:#01610b">184,00</span>
<span class="t" style="right:34.90px;top:97.55px;font-size:10.1px;color:#404040">176,00</span>
<span class="t" style="right:-8.50px;top:97.55px;font-size:10.1px;color:#404040">16,00</span>
<span class="t" style="left:-0.3px;top:111.78px;font-size:10.6px;color:#404040;transform:scaleX(1.0074)">Aloísio Nascimento</span>
<span class="t" style="right:810.40px;top:113.10px;font-size:10.1px;color:#404040">168,00</span>
<span class="t" style="right:758.00px;top:113.10px;font-size:10.1px;color:#404040">82,00</span>
<span class="t" style="right:705.60px;top:113.10px;font-size:10.1px;color:#175a0a">86,00</span>
<span class="t" style="right:653.30px;top:113.10px;font-size:10.1px;color:#404040">160,00</span>
<span class="t" style="right:601.10px;top:113.10px;font-size:10.1px;color:#404040">71,00</span>
<span class="t" style="right:548.90px;top:113.10px;font-size:10.1px;color:#135b0a">89,00</span>
<span class="t" style="right:496.50px;top:113.10px;font-size:10.1px;color:#404040">184,00</span>
<span class="t" style="right:444.30px;top:113.10px;font-size:10.1px;color:#404040">119,78</span>
<span class="t" style="right:392.10px;top:113.10px;font-size:10.1px;color:#3a4e09">64,22</span>
<span class="t" style="right:339.70px;top:113.10px;font-size:10.1px;color:#404040">160,00</span>
<span class="t" style="right:287.50px;top:113.10px;font-size:10.1px;color:#404040">155,75</span>
<span class="t" style="right:235.50px;top:113.10px;font-size:10.1px;color:#bf5564">4,25</span>
<span class="t" style="right:183.10px;top:113.10px;font-size:10.1px;color:#404040">184,00</span>
<span class="t" style="right:139.50px;top:113.10px;font-size:10.1px;color:#404040">63,00</span>
<span class="t" style="right:87.30px;top:113.10px;font-size:10.1px;color:#01610b">121,00</span>
<span class="t" style="right:34.90px;top:113.10px;font-size:10.1px;color:#404040">176,00</span>
<span class="t" style="right:-8.50px;top:113.10px;font-size:10.1px;color:#404040">49,00</span>
<span class="t" style="left:-0.3px;top:127.33px;font-size:10.6px;color:#404040;transform:scaleX(0.9739)">Cyntia Barbosa Correa</span>
<span class="t" style="right:810.40px;top:128.65px;font-size:10.1px;color:#404040">168,00</span>
<span class="t" style="right:758.00px;top:128.65px;font-size:10.1px;color:#404040">128,75</span>
<span class="t" style="right:705.60px;top:128.65px;font-size:10.1px;color:#4d3c0b">39,25</span>
<span class="t" style="right:653.30px;top:128.65px;font-size:10.1px;color:#404040">160,00</span>
<span class="t" style="right:601.10px;top:128.65px;font-size:10.1px;color:#404040">22,50</span>
<span class="t" style="right:548.90px;top:128.65px;font-size:10.1px;color:#01610b">137,50</span>
<span class="t" style="right:496.50px;top:128.65px;font-size:10.1px;color:#404040">184,00</span>
<span class="t" style="right:392.10px;top:128.65px;font-size:10.1px;color:#01610b">184,00</span>
<span class="t" style="right:339.70px;top:128.65px;font-size:10.1px;color:#404040">160,00</span>
<span class="t" style="right:235.50px;top:128.65px;font-size:10.1px;color:#01610b">160,00</span>
<span class="t" style="right:183.10px;top:128.65px;font-size:10.1px;color:#404040">184,00</span>
<span class="t" style="right:87.30px;top:128.65px;font-size:10.1px;color:#01610b">184,00</span>
<span class="t" style="right:34.90px;top:128.65px;font-size:10.1px;color:#404040">176,00</span>
<span class="t" style="left:-0.3px;top:142.88px;font-size:10.6px;color:#404040;transform:scaleX(0.9441)">Eric Patrick</span>
<span class="t" style="right:810.40px;top:144.20px;font-size:10.1px;color:#404040">168,00</span>
<span class="t" style="right:705.60px;top:144.20px;font-size:10.1px;color:#01610b">168,00</span>
<span class="t" style="right:653.30px;top:144.20px;font-size:10.1px;color:#404040">160,00</span>
<span class="t" style="right:548.90px;top:144.20px;font-size:10.1px;color:#01610b">160,00</span>
<span class="t" style="right:496.50px;top:144.20px;font-size:10.1px;color:#404040">184,00</span>
<span class="t" style="right:392.10px;top:144.20px;font-size:10.1px;color:#01610b">184,00</span>
<span class="t" style="right:339.70px;top:144.20px;font-size:10.1px;color:#404040">160,00</span>
<span class="t" style="right:235.50px;top:144.20px;font-size:10.1px;color:#01610b">160,00</span>
<span class="t" style="right:183.10px;top:144.20px;font-size:10.1px;color:#404040">184,00</span>
<span class="t" style="right:87.30px;top:144.20px;font-size:10.1px;color:#01610b">184,00</span>
<span class="t" style="right:34.90px;top:144.20px;font-size:10.1px;color:#404040">176,00</span>
<span class="t" style="left:-0.3px;top:158.43px;font-size:10.6px;color:#404040;transform:scaleX(0.9759)">Financeiro</span>
<span class="t" style="right:810.40px;top:159.75px;font-size:10.1px;color:#404040">168,00</span>
<span class="t" style="right:758.00px;top:159.75px;font-size:10.1px;color:#404040">35,50</span>
<span class="t" style="right:705.60px;top:159.75px;font-size:10.1px;color:#01610b">132,50</span>
<span class="t" style="right:653.30px;top:159.75px;font-size:10.1px;color:#404040">160,00</span>
<span class="t" style="right:601.10px;top:159.75px;font-size:10.1px;color:#404040">52,50</span>
<span class="t" style="right:548.90px;top:159.75px;font-size:10.1px;color:#01610b">107,50</span>
<span class="t" style="right:496.50px;top:159.75px;font-size:10.1px;color:#404040">184,00</span>
<span class="t" style="right:444.30px;top:159.75px;font-size:10.1px;color:#404040">64,00</span>
<span class="t" style="right:392.10px;top:159.75px;font-size:10.1px;color:#01610b">120,00</span>
<span class="t" style="right:339.70px;top:159.75px;font-size:10.1px;color:#404040">160,00</span>
<span class="t" style="right:287.50px;top:159.75px;font-size:10.1px;color:#404040">40,00</span>
<span class="t" style="right:235.50px;top:159.75px;font-size:10.1px;color:#01610b">120,00</span>
<span class="t" style="right:183.10px;top:159.75px;font-size:10.1px;color:#404040">184,00</span>
<span class="t" style="right:87.30px;top:159.75px;font-size:10.1px;color:#01610b">184,00</span>
<span class="t" style="right:34.90px;top:159.75px;font-size:10.1px;color:#404040">176,00</span>
<span class="t" style="left:-0.3px;top:173.98px;font-size:10.6px;color:#404040;transform:scaleX(0.9633)">Gessica Alcântara</span>
<span class="t" style="right:810.40px;top:175.30px;font-size:10.1px;color:#404040">168,00</span>
<span class="t" style="right:758.00px;top:175.30px;font-size:10.1px;color:#404040">156,50</span>
<span class="t" style="right:705.60px;top:175.30px;font-size:10.1px;color:#bf5564">11,50</span>
<span class="t" style="right:653.30px;top:175.30px;font-size:10.1px;color:#404040">160,00</span>
<span class="t" style="right:601.10px;top:175.30px;font-size:10.1px;color:#404040">85,00</span>
<span class="t" style="right:548.90px;top:175.30px;font-size:10.1px;color:#295409">75,00</span>
<span class="t" style="right:496.50px;top:175.30px;font-size:10.1px;color:#404040">184,00</span>
<span class="t" style="right:444.30px;top:175.30px;font-size:10.1px;color:#404040">4,50</span>
<span class="t" style="right:392.10px;top:175.30px;font-size:10.1px;color:#01610b">179,50</span>
<span class="t" style="right:339.70px;top:175.30px;font-size:10.1px;color:#404040">160,00</span>
<span class="t" style="right:287.50px;top:175.30px;font-size:10.1px;color:#404040">94,00</span>
<span class="t" style="right:235.50px;top:175.30px;font-size:10.1px;color:#374f09">66,00</span>
<span class="t" style="right:183.10px;top:175.30px;font-size:10.1px;color:#404040">184,00</span>
<span class="t" style="right:139.50px;top:175.30px;font-size:10.1px;color:#404040">32,00</span>
<span class="t" style="right:87.30px;top:175.30px;font-size:10.1px;color:#01610b">152,00</span>
<span class="t" style="right:34.90px;top:175.30px;font-size:10.1px;color:#404040">176,00</span>
<span class="t" style="right:-8.50px;top:175.30px;font-size:10.1px;color:#404040">27,90</span>
<span class="t" style="left:0;top:191.60px;font-size:10.8px;color:#222;font-weight:700;transform:scaleX(0.9)">Total</span>
<span class="t" style="right:809.60px;top:191.26px;font-size:10.8px;color:#222;font-weight:700;transform-origin:100% 50%;transform:scaleX(1.035)">4.368,00</span>
<span class="t" style="right:757.20px;top:191.26px;font-size:10.8px;color:#222;font-weight:700;transform-origin:100% 50%;transform:scaleX(1.035)">2.064,91</span>
<span class="t" style="right:704.80px;top:191.26px;font-size:10.8px;color:#222;font-weight:700;transform-origin:100% 50%;transform:scaleX(1.035)">2.303,09</span>
<span class="t" style="right:652.50px;top:191.26px;font-size:10.8px;color:#222;font-weight:700;transform-origin:100% 50%;transform:scaleX(1.035)">4.160,00</span>
<span class="t" style="right:600.30px;top:191.26px;font-size:10.8px;color:#222;font-weight:700;transform-origin:100% 50%;transform:scaleX(1.035)">1.786,00</span>
<span class="t" style="right:548.10px;top:191.26px;font-size:10.8px;color:#222;font-weight:700;transform-origin:100% 50%;transform:scaleX(1.035)">2.374,00</span>
<span class="t" style="right:495.70px;top:191.26px;font-size:10.8px;color:#222;font-weight:700;transform-origin:100% 50%;transform:scaleX(1.035)">4.784,00</span>
<span class="t" style="right:443.50px;top:191.26px;font-size:10.8px;color:#222;font-weight:700;transform-origin:100% 50%;transform:scaleX(1.035)">1.410,08</span>
<span class="t" style="right:391.30px;top:191.26px;font-size:10.8px;color:#222;font-weight:700;transform-origin:100% 50%;transform:scaleX(1.035)">3.373,92</span>
<span class="t" style="right:338.90px;top:191.26px;font-size:10.8px;color:#222;font-weight:700;transform-origin:100% 50%;transform:scaleX(1.035)">4.160,00</span>
<span class="t" style="right:286.70px;top:191.26px;font-size:10.8px;color:#222;font-weight:700;transform-origin:100% 50%;transform:scaleX(1.035)">1.792,34</span>
<span class="t" style="right:234.70px;top:191.26px;font-size:10.8px;color:#222;font-weight:700;transform-origin:100% 50%;transform:scaleX(1.035)">2.367,66</span>
<span class="t" style="right:182.30px;top:191.26px;font-size:10.8px;color:#222;font-weight:700;transform-origin:100% 50%;transform:scaleX(1.035)">4.784,00</span>
<span class="t" style="right:138.70px;top:191.26px;font-size:10.8px;color:#222;font-weight:700;transform-origin:100% 50%;transform:scaleX(1.035)">983,18</span>
<span class="t" style="right:86.50px;top:191.26px;font-size:10.8px;color:#222;font-weight:700;transform-origin:100% 50%;transform:scaleX(1.035)">3.800,82</span>
<span class="t" style="right:34.10px;top:191.26px;font-size:10.8px;color:#222;font-weight:700;transform-origin:100% 50%;transform:scaleX(1.035)">4.752,00</span>
<span class="t" style="right:-9.30px;top:191.26px;font-size:10.8px;color:#222;font-weight:700;transform-origin:100% 50%;transform:scaleX(1.035)">611,58</span>
</div>
<div class="b" style="left:1012px;top:259.3px;width:8px;height:273px;background:#f1f1f1"></div>
<div class="b" style="left:1012px;top:281px;width:8px;height:111px;background:#c9c9c9"></div>
<div class="b" style="left:0;top:532px;width:1012px;height:7.3px;background:#f1f1f1"></div>
<div class="b" style="left:16.6px;top:532px;width:465px;height:7.3px;background:#c9c9c9"></div>
<svg width="1024" height="582" viewBox="0 0 1024 582" fill="none"><path d="M1013.6 271.5 L1016 269 L1018.4 271.5" stroke="#555" stroke-width="1"/><path d="M1013.9 520.2 L1016.1 522.6 L1018.3 520.2" stroke="#777" stroke-width="1"/><path d="M6.3 533.6 L3.6 535.6 L6.3 537.6" stroke="#555" stroke-width="0.9"/><path d="M1000.8 533.6 L1003.5 535.6 L1000.8 537.6" stroke="#555" stroke-width="0.9"/></svg>
<svg width="1024" height="582" viewBox="0 0 1024 582" fill="none"><path d="M3.65 551 H1024" stroke="#9a9a9a" stroke-width="1" stroke-dasharray="1 5.535"/><path d="M69.0 544.4 V582" stroke="#9a9a9a" stroke-width="1" stroke-dasharray="1 5.6"/><rect x="68.5" y="86" width="1" height="1" fill="#777"/><path d="M147.4 544.4 V582" stroke="#9a9a9a" stroke-width="1" stroke-dasharray="1 5.6"/><rect x="146.9" y="86" width="1" height="1" fill="#777"/><path d="M225.8 544.4 V582" stroke="#9a9a9a" stroke-width="1" stroke-dasharray="1 5.6"/><rect x="225.3" y="86" width="1" height="1" fill="#777"/><path d="M304.3 544.4 V582" stroke="#9a9a9a" stroke-width="1" stroke-dasharray="1 5.6"/><rect x="303.8" y="86" width="1" height="1" fill="#777"/><path d="M382.7 544.4 V582" stroke="#9a9a9a" stroke-width="1" stroke-dasharray="1 5.6"/><rect x="382.2" y="86" width="1" height="1" fill="#777"/><path d="M461.1 544.4 V582" stroke="#9a9a9a" stroke-width="1" stroke-dasharray="1 5.6"/><rect x="460.6" y="86" width="1" height="1" fill="#777"/><path d="M539.5 544.4 V582" stroke="#9a9a9a" stroke-width="1" stroke-dasharray="1 5.6"/><rect x="539.0" y="86" width="1" height="1" fill="#777"/><path d="M617.9 544.4 V582" stroke="#9a9a9a" stroke-width="1" stroke-dasharray="1 5.6"/><rect x="617.4" y="86" width="1" height="1" fill="#777"/><path d="M696.4 544.4 V582" stroke="#9a9a9a" stroke-width="1" stroke-dasharray="1 5.6"/><rect x="695.9" y="86" width="1" height="1" fill="#777"/><path d="M774.8 544.4 V582" stroke="#9a9a9a" stroke-width="1" stroke-dasharray="1 5.6"/><rect x="774.3" y="86" width="1" height="1" fill="#777"/><path d="M853.2 544.4 V582" stroke="#9a9a9a" stroke-width="1" stroke-dasharray="1 5.6"/><rect x="852.7" y="86" width="1" height="1" fill="#777"/><path d="M931.6 544.4 V582" stroke="#9a9a9a" stroke-width="1" stroke-dasharray="1 5.6"/><rect x="931.1" y="86" width="1" height="1" fill="#777"/><path d="M1010.0 544.4 V582" stroke="#9a9a9a" stroke-width="1" stroke-dasharray="1 5.6"/><rect x="1009.5" y="86" width="1" height="1" fill="#777"/><path d="M9.5 551 V582 M1009.5 551 V582" stroke="#b0b0b0" stroke-width="1" stroke-dasharray="1 5.6"/><circle cx="380.8" cy="568.5" r="11" fill="#fff" stroke="#c5344a" stroke-width="2"/><rect x="379.40000000000003" y="565.5" width="2.8" height="9" fill="#c5344a"/><rect x="379.40000000000003" y="561.8" width="2.8" height="2.6" fill="#c5344a"/><circle cx="529.0" cy="566.6" r="11" fill="#fff" stroke="#e2c158" stroke-width="2"/><rect x="527.6" y="563.6" width="2.8" height="9" fill="#e2c158"/><rect x="527.6" y="559.9" width="2.8" height="2.6" fill="#e2c158"/><circle cx="689.0" cy="564.4" r="11" fill="#fff" stroke="#22e62a" stroke-width="2"/><rect x="687.6" y="561.4" width="2.8" height="9" fill="#22e62a"/><rect x="687.6" y="557.6999999999999" width="2.8" height="2.6" fill="#22e62a"/></svg>
<span class="t" style="left:399.60px;top:561.30px;font-size:13px;color:#c5344a;font-weight:700;transform:scaleX(0.9522);">Alocação Alta</span>
<span class="t" style="left:547.50px;top:560.00px;font-size:13px;color:#e2c158;font-weight:700;transform:scaleX(0.9516);">Alocação Média</span>
<span class="t" style="left:705.50px;top:559.20px;font-size:13px;color:#22e62a;font-weight:700;transform:scaleX(0.9521);">Alocação Baixa</span>
</div></body></html>
